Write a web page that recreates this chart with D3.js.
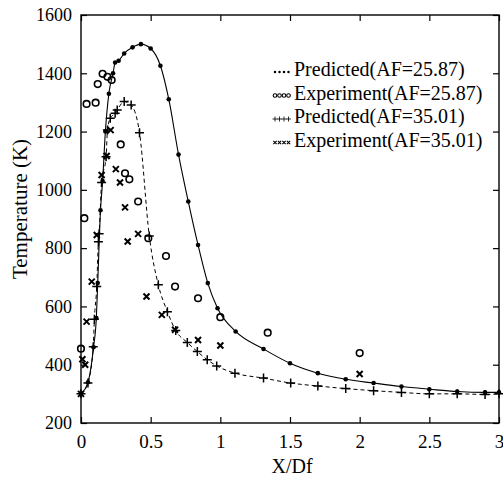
<!DOCTYPE html>
<html><head><meta charset="utf-8">
<script src="https://cdn.jsdelivr.net/npm/d3@7"></script>
<style>body{margin:0;background:#fff}svg text{font-family:"Liberation Serif","DejaVu Serif",serif !important;fill:#000}</style>
</head><body><svg id="c" width="503" height="479"></svg>
<script>
const xTicks=[0,0.5,1,1.5,2,2.5,3];
const xTickLabels=["0","0.5","1","1.5","2","2.5","3"];
const yTicks=[200,400,600,800,1000,1200,1400,1600];
const yTickLabels=["200","400","600","800","1000","1200","1400","1600"];
const legendLabels=["Predicted(AF=25.87)","Experiment(AF=25.87)","Predicted(AF=35.01)","Experiment(AF=35.01)"];
const legendTypes=["dot","circle","plus","cross"];

const pred1X=[0,0.05,0.09,0.11,0.12,0.14,0.155,0.175,0.20,0.23,0.245,0.27,0.31,0.37,0.43,0.50,0.57,0.63,0.70,0.77,0.84,0.91,0.98,1.11,1.31,1.50,1.70,1.90,2.10,2.30,2.50,2.70,2.90,3.00];
const pred1Y=[300,340,460,560,680,930,1030,1200,1330,1400,1437,1443,1468,1489,1500,1485,1426,1311,1121,960,811,680,594,514,454,405,371,350,337,325,316,308,305,305];

const exp1X=[0,0.024,0.04,0.105,0.12,0.155,0.19,0.22,0.285,0.316,0.347,0.41,0.483,0.61,0.675,0.84,1.0,1.34,2.0];
const exp1Y=[455,903,1295,1299,1363,1398,1388,1377,1156,1057,1036,960,834,773,668,628,563,510,440];

const pred2X=[0,0.05,0.088,0.096,0.113,0.125,0.13,0.148,0.18,0.19,0.21,0.245,0.26,0.31,0.36,0.42,0.49,0.555,0.62,0.68,0.763,0.835,0.906,0.974,1.105,1.31,1.505,1.70,1.90,2.10,2.30,2.50,2.70,2.90,3.00];
const pred2Y=[300,337,462,556,668,822,849,1025,1114,1205,1246,1263,1274,1303,1291,1196,842,674,582,517,476,445,417,396,371,354,337,327,318,311,305,300,300,298,300];

const exp2X=[0,0.01,0.03,0.04,0.077,0.113,0.148,0.184,0.213,0.25,0.28,0.316,0.335,0.41,0.47,0.58,0.675,0.84,1.0,2.0];
const exp2Y=[300,419,400,548,685,845,1051,1116,1205,1071,1025,940,823,849,634,571,520,485,466,368];

const FONT='"Liberation Serif","DejaVu Serif",serif';
const svg=d3.select("#c");
const L=81,R=499,T=15,B=423;
const x=d3.scaleLinear().domain([0,3]).range([L,R]);
const y=d3.scaleLinear().domain([200,1600]).range([B,T]);

svg.append("rect").attr("x",L).attr("y",T).attr("width",R-L).attr("height",B-T)
  .attr("fill","none").attr("stroke","#000").attr("stroke-width",1.4);

const fmtX=(d,i)=>xTickLabels[i];
const fmtY=(d,i)=>yTickLabels[i];
const gx=svg.append("g").attr("transform",`translate(0,${B})`)
  .call(d3.axisBottom(x).tickValues(xTicks).tickFormat(fmtX).tickSizeInner(-6).tickSizeOuter(0).tickPadding(12));
const gy=svg.append("g").attr("transform",`translate(${L},0)`)
  .call(d3.axisLeft(y).tickValues(yTicks).tickFormat(fmtY).tickSizeInner(-6).tickSizeOuter(0).tickPadding(9));
const gt=svg.append("g").attr("transform",`translate(0,${T})`)
  .call(d3.axisTop(x).tickValues(xTicks).tickFormat("").tickSizeInner(-6).tickSizeOuter(0));
const gr=svg.append("g").attr("transform",`translate(${R},0)`)
  .call(d3.axisRight(y).tickValues(yTicks).tickFormat("").tickSizeInner(-6).tickSizeOuter(0));
[gx,gy,gt,gr].forEach(g=>{g.attr("font-family",FONT);g.select(".domain").remove();g.selectAll("line").attr("stroke","#000").attr("stroke-width",1.2);});
gx.selectAll("text").attr("font-size",19).style("font-family",FONT).attr("fill","#000");
gy.selectAll("text").attr("font-size",18).style("font-family",FONT).attr("fill","#000");

svg.append("text").attr("x",292).attr("y",473).attr("text-anchor","middle").attr("font-size",20).style("font-family",FONT).text("X/Df");
svg.append("text").attr("transform",`translate(27,${(T+B)/2-10}) rotate(-90)`).attr("text-anchor","middle").attr("font-size",21).style("font-family",FONT).text("Temperature (K)");

const line=d3.line().x(d=>x(d[0])).y(d=>y(d[1])).curve(d3.curveMonotoneX);
const p1=pred1X.map((v,i)=>[v,pred1Y[i]]);
const p2=pred2X.map((v,i)=>[v,pred2Y[i]]);
svg.append("path").attr("d",line(p1)).attr("fill","none").attr("stroke","#000").attr("stroke-width",1.1);
svg.append("path").attr("d",line(p2)).attr("fill","none").attr("stroke","#000").attr("stroke-width",1).attr("stroke-dasharray","4,3");

function marker(g,type,px,py,s){
  if(type==="dot") g.append("circle").attr("cx",px).attr("cy",py).attr("r",2.3*s).attr("fill","#000");
  else if(type==="circle") g.append("circle").attr("cx",px).attr("cy",py).attr("r",3.3*s).attr("fill","none").attr("stroke","#000").attr("stroke-width",1.6*Math.max(s,0.7));
  else if(type==="plus") g.append("path").attr("transform",`translate(${px},${py}) scale(${s})`).attr("d","M-4.5,0H4.5M0,-4.5V4.5").attr("stroke","#000").attr("stroke-width",1.5);
  else g.append("path").attr("transform",`translate(${px},${py}) scale(${s})`).attr("d","M-3,-3L3,3M-3,3L3,-3").attr("stroke","#000").attr("stroke-width",2);
}
const mg=svg.append("g");
p1.forEach(d=>marker(mg,"dot",x(d[0]),y(d[1]),1));
exp1X.forEach((v,i)=>marker(mg,"circle",x(v),y(exp1Y[i]),1));
p2.forEach(d=>marker(mg,"plus",x(d[0]),y(d[1]),1));
exp2X.forEach((v,i)=>marker(mg,"cross",x(v),y(exp2Y[i]),1));

const lg=svg.append("g");
legendLabels.forEach((t,i)=>{
  const yy=76+i*23.5;
  lg.append("text").attr("x",294).attr("y",yy).attr("font-size",20).style("font-family",FONT).text(t);
  for(let k=0;k<4;k++) marker(lg,legendTypes[i],275+k*4.5,yy-4,0.55);
});
</script></body></html>
